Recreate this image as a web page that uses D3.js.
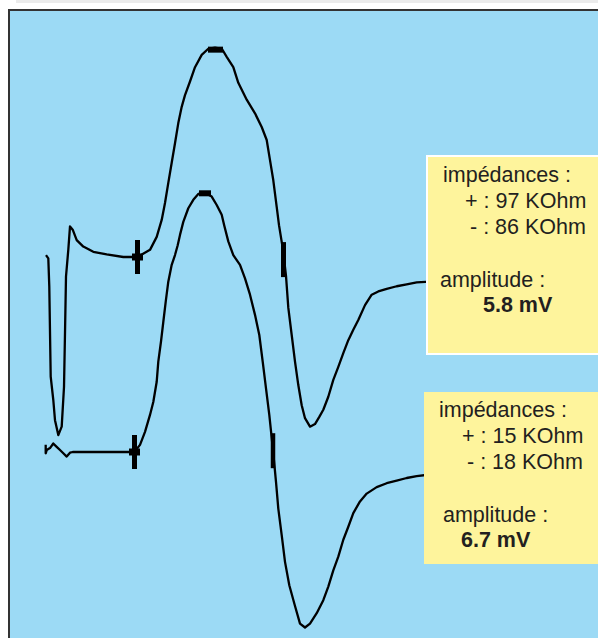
<!DOCTYPE html>
<html>
  <head>
    <meta charset="utf-8">
    <script src="https://d3js.org/d3.v7.min.js"></script>
    <style>
      body { margin: 0; background: #fff; }
      .trace { fill: none; stroke: #000; stroke-width: 2.3; stroke-linejoin: round; }
      .mark { fill: #000; }
      .boxText { font-family: "Liberation Sans", Arial, sans-serif; font-size: 21.5px; fill: #231f20; }
      .boxText.bold { font-weight: bold; }
    </style>
  </head>
  <body>
    <div id="chart"></div>
  </body>
</html>

<script>
  /* INPUT DATA - time in ms, potential in mV */
  var time1 = [0.1, 0.33, 0.43, 0.57, 0.83, 1.0, 1.33, 1.67, 1.9, 2.0, 2.1, 2.33, 2.5, 2.77, 3.17, 3.83, 4.83, 6.17, 7.83,
    9.25, 10.5, 11.17, 11.67, 12.0, 12.33, 12.67, 13.0, 13.33, 13.67, 14.0, 14.5, 15.0, 15.67, 16.3, 17.0, 17.7,
    18.17, 18.83, 19.33, 20.17, 21.0, 21.67, 22.17, 22.5, 22.83, 23.17, 23.4, 23.8, 24.1, 24.33, 24.67, 25.0,
    25.33, 25.67, 26.0, 26.5, 27.0, 27.43, 27.83, 28.33, 28.83, 29.33, 29.83, 30.33, 30.83, 31.33, 32.0, 32.67,
    33.33, 34.17, 35.17, 36.17, 37.17, 38.5];
  var volt1 = [0.03, -0.02, -0.46, -1.84, -2.2, -2.51, -2.74, -2.61, -2.0, -1.17, -0.3, 0.11, 0.47, 0.42, 0.26, 0.16, 0.08, 0.04, 0.0,
    0.0, 0.11, 0.31, 0.57, 0.83, 1.14, 1.45, 1.75, 2.06, 2.31, 2.49, 2.7, 2.92, 3.11, 3.2, 3.22, 3.2,
    3.08, 2.92, 2.68, 2.42, 2.21, 2.0, 1.8, 1.49, 1.18, 0.77, 0.49, 0.11, -0.29, -0.78, -1.2, -1.61,
    -1.97, -2.28, -2.48, -2.61, -2.57, -2.46, -2.35, -2.15, -1.89, -1.69, -1.48, -1.28, -1.12, -0.97, -0.74, -0.58,
    -0.53, -0.49, -0.45, -0.42, -0.39, -0.38];

  var time2 = [0.07, 0.07, 0.17, 0.5, 0.83, 1.17, 1.5, 1.83, 2.17, 2.5, 2.77, 8.93,
    9.5, 10.0, 10.5, 10.83, 11.17, 11.33, 11.6, 11.83, 12.07, 12.33, 12.67, 13.0, 13.27, 13.5, 13.83, 14.33,
    14.83, 15.33, 16.0, 16.67, 17.17, 17.67, 17.93, 18.33, 18.83, 19.5, 20.0, 20.5, 21.0, 21.43, 21.77,
    22.1, 22.43, 22.8, 23.1, 23.33, 23.67, 24.0, 24.43, 25.0, 25.5, 26.0, 26.5, 27.17, 27.83, 28.33, 28.83,
    29.33, 29.83, 30.33, 30.83, 31.5, 32.17, 33.17, 34.17, 35.17, 36.17, 37.17, 38.3];
  var volt2 = [0.11, -0.02, 0.03, 0.06, 0.13, 0.08, 0.03, -0.02, -0.07, -0.01, 0.0, 0.0,
    0.11, 0.31, 0.57, 0.77, 1.08, 1.39, 1.7, 2.0, 2.31, 2.62, 2.88, 3.03, 3.18, 3.34, 3.54, 3.75,
    3.88, 3.97, 3.99, 3.93, 3.8, 3.65, 3.48, 3.24, 3.03, 2.88, 2.67, 2.42, 2.11, 1.8, 1.39,
    0.98, 0.57, 0.03, -0.46, -0.87, -1.28, -1.69, -2.05, -2.37, -2.64, -2.7, -2.64, -2.48, -2.28, -2.07, -1.82,
    -1.61, -1.35, -1.15, -0.94, -0.76, -0.64, -0.54, -0.48, -0.44, -0.4, -0.37, -0.35];

  // vertical offset of each sweep on the screen (mV)
  var traceOffsets = [0, -3];

  // latency cursors: onset, peak, negative crossing
  var onsetTimes = [9.25, 8.95];
  var onsetValues = [0, 0];
  var peakTimes = [17.05, 16.0];
  var peakValues = [3.19, 3.98];
  var fallTimes = [23.85, 22.8];
  var fallValues = [-0.04, 0.02];

  var impedancePlus = ["97", "15"];
  var impedanceMinus = ["86", "18"];
  var amplitudes = ["5.8", "6.7"];
  /* END INPUT DATA */

  var width = 598, height = 638;

  var x = d3.scaleLinear().domain([0, 55]).range([45, 595]);
  var y = d3.scaleLinear().domain([-5, 5]).range([257 + 325, 257 - 325]);

  var svg = d3.select("#chart").append("svg")
              .attr("width", width)
              .attr("height", height);

  function drawPanel() {
    svg.append("rect")
       .attr("x", 16).attr("y", 0)
       .attr("width", width - 16).attr("height", 3)
       .attr("fill", "#ebebeb");

    svg.append("rect")
       .attr("x", 9).attr("y", 10)
       .attr("width", width + 10).attr("height", height + 10)
       .attr("fill", "#9cdaf5")
       .attr("stroke", "#333")
       .attr("stroke-width", 2);
  }

  function drawTraces() {
    var sweeps = [
      { t: time1, v: volt1, off: traceOffsets[0] },
      { t: time2, v: volt2, off: traceOffsets[1] }
    ];

    sweeps.forEach(function(s) {
      var pts = s.t.map(function(t, i) { return [t, s.v[i] + s.off]; });
      var line = d3.line()
                   .x(function(d) { return x(d[0]); })
                   .y(function(d) { return y(d[1]); });
      svg.append("path")
         .attr("class", "trace")
         .attr("d", line(pts));
    });

    // cursors
    var sizes = [
      { onsetW: 5, peakW: 15, fallW: 5 },
      { onsetW: 5, peakW: 12, fallW: 4.5 }
    ];
    traceOffsets.forEach(function(off, i) {
      var ox = x(onsetTimes[i]), oy = y(onsetValues[i] + off);
      svg.append("rect").attr("class", "mark")
         .attr("x", ox - sizes[i].onsetW / 2).attr("y", oy - 17)
         .attr("width", sizes[i].onsetW).attr("height", 34);
      svg.append("rect").attr("class", "mark")
         .attr("x", ox - 5.5).attr("y", oy - 3.5)
         .attr("width", 11).attr("height", 7);

      var px = x(peakTimes[i]), py = y(peakValues[i] + off);
      svg.append("rect").attr("class", "mark")
         .attr("x", px - sizes[i].peakW / 2).attr("y", py - 3)
         .attr("width", sizes[i].peakW).attr("height", 6);

      var fx = x(fallTimes[i]), fy = y(fallValues[i] + off);
      svg.append("rect").attr("class", "mark")
         .attr("x", fx - sizes[i].fallW / 2).attr("y", fy - 17.5)
         .attr("width", sizes[i].fallW).attr("height", 35);
    });
  }

  function drawBoxes() {
    var boxes = [
      { x: 427, y: 156, h: 198, border: true, tx: [16, 38, 43, 13, 56] },
      { x: 424, y: 392, h: 172, border: false, tx: [15, 38, 43, 19, 37] }
    ];
    var lineY = [26, 52, 78, 131, 156];

    boxes.forEach(function(b, i) {
      svg.append("rect")
         .attr("x", b.x).attr("y", b.y)
         .attr("width", width - b.x + 10).attr("height", b.h)
         .attr("fill", "#fef49c")
         .attr("stroke", b.border ? "#fff" : "none")
         .attr("stroke-width", 2);

      var lines = [
        "impédances :",
        "+ : " + impedancePlus[i] + " KOhm",
        "- : " + impedanceMinus[i] + " KOhm",
        "amplitude :",
        amplitudes[i] + " mV"
      ];
      lines.forEach(function(txt, j) {
        svg.append("text")
           .attr("class", j == 4 ? "boxText bold" : "boxText")
           .attr("x", b.x + b.tx[j])
           .attr("y", b.y + lineY[j] - (i == 1 ? 1 : 0))
           .text(txt);
      });
    });
  }

  drawPanel();
  drawTraces();
  drawBoxes();
</script>
